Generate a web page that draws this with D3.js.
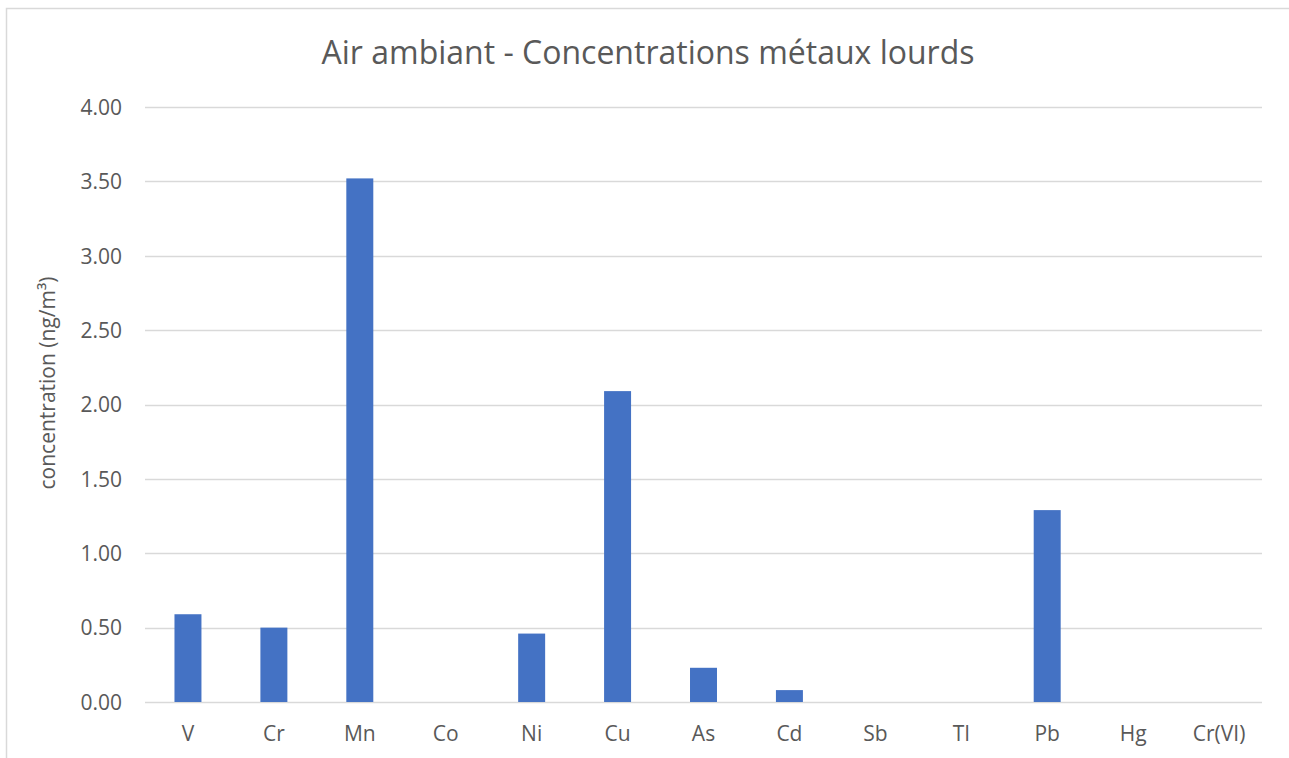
<!DOCTYPE html>
<html>
<head>
<meta charset="utf-8">
<script src="https://cdn.jsdelivr.net/npm/d3@7"></script>
<style>
  html, body { margin: 0; padding: 0; background: #ffffff; }
  svg { display: block; }
  text { font-family: "Open Sans", "Noto Sans", sans-serif; fill: #595959; }
</style>
</head>
<body>
<svg id="chart" width="1289" height="758"></svg>
<script>
// Heavy-metal concentrations in ambient air (ng/m³)
const metals = ["V", "Cr", "Mn", "Co", "Ni", "Cu", "As", "Cd", "Sb", "Tl", "Pb", "Hg", "Cr(VI)"];
const concentrations = [0.59, 0.50, 3.52, 0, 0.46, 2.09, 0.23, 0.08, 0, 0, 1.29, 0, 0];
const yTicks = [0, 0.5, 1, 1.5, 2, 2.5, 3, 3.5, 4];

const titleText = "Air ambiant - Concentrations métaux lourds";
const yAxisTitle = "concentration (ng/m³)";

const W = 1289, H = 758;
const plot = { left: 145, right: 1262, top: 107, bottom: 702 };

const svg = d3.select("#chart");

// chart area frame
svg.append("rect")
  .attr("x", 6.5).attr("y", 8.5)
  .attr("width", W + 20).attr("height", H + 20)
  .attr("fill", "#ffffff")
  .attr("stroke", "#d9d9d9")
  .attr("stroke-width", 1.5);

const x = d3.scaleBand()
  .domain(metals)
  .range([plot.left, plot.right])
  .paddingInner(0.686)
  .paddingOuter(0.343);

const y = d3.scaleLinear()
  .domain([0, 4])
  .range([plot.bottom, plot.top]);

// horizontal gridlines
svg.append("g")
  .selectAll("line")
  .data(yTicks)
  .join("line")
  .attr("x1", plot.left).attr("x2", plot.right)
  .attr("y1", d => Math.round(y(d)) + 0.5)
  .attr("y2", d => Math.round(y(d)) + 0.5)
  .attr("stroke", "#d9d9d9")
  .attr("stroke-width", 1.5);

// y axis labels
const yAxis = d3.axisLeft(y)
  .tickValues(yTicks)
  .tickFormat(d3.format(".2f"))
  .tickSize(0)
  .tickPadding(0);

const gy = svg.append("g")
  .attr("transform", `translate(122,0)`)
  .call(yAxis);
gy.select(".domain").remove();
gy.selectAll("text")
  .attr("font-size", 21)
  .attr("font-family", null)
  .attr("dy", "0.35em")
  .style("fill", "#595959");

// bars
svg.append("g")
  .selectAll("rect")
  .data(metals.map((m, i) => ({ m, v: concentrations[i] })))
  .join("rect")
  .attr("x", d => x(d.m))
  .attr("width", x.bandwidth())
  .attr("y", d => y(d.v))
  .attr("height", d => y(0) - y(d.v))
  .attr("fill", "#4472c4");

// x axis (category labels)
const xAxis = d3.axisBottom(x).tickSize(0).tickPadding(0);
const gx = svg.append("g")
  .attr("transform", `translate(0,${plot.bottom})`)
  .call(xAxis);
gx.select(".domain").remove();
gx.selectAll("text")
  .attr("font-size", 21)
  .attr("font-family", null)
  .attr("y", 39)
  .attr("dy", 0)
  .style("fill", "#595959");

// y axis title
svg.append("text")
  .attr("transform", "translate(55,383) rotate(-90)")
  .attr("text-anchor", "middle")
  .attr("font-size", 21)
  .text(yAxisTitle);

// chart title
svg.append("text")
  .attr("x", 648)
  .attr("y", 64)
  .attr("text-anchor", "middle")
  .attr("font-size", 32)
  .text(titleText);
</script>
</body>
</html>
